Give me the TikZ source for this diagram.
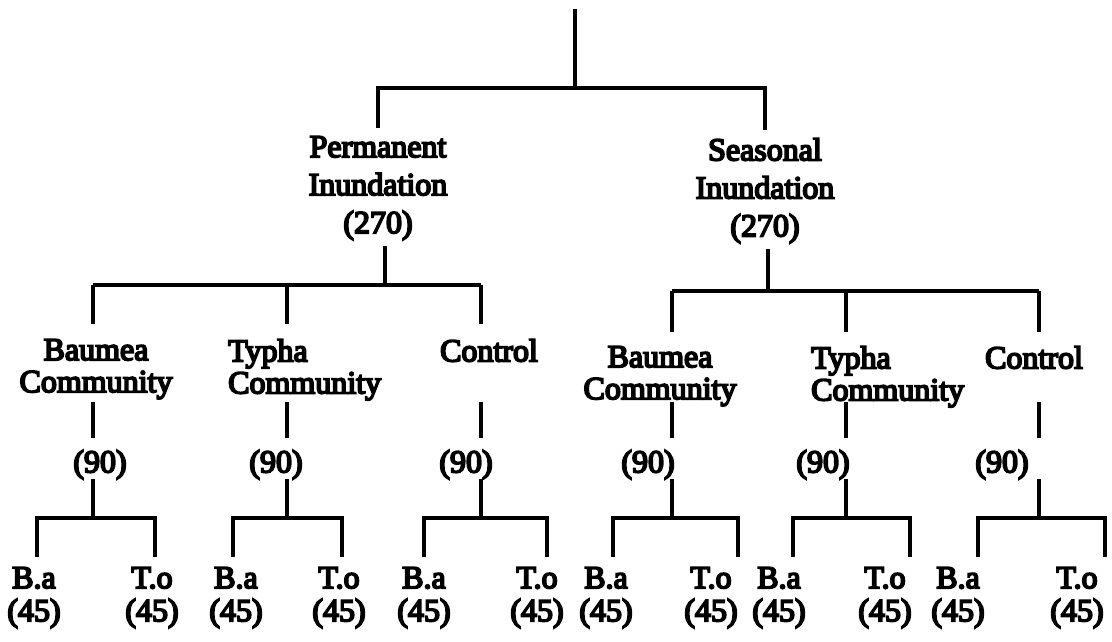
\documentclass[tikz,border=0pt]{standalone}
\usepackage{fontspec}
\setmainfont{Liberation Serif}
\usetikzlibrary{calc}

% heavier strokes, like the scanned print
\newcommand\inkon{\special{pdf:literal direct 2 Tr 1.8 w}}

\tikzset{
  branch/.style={line width=4.5pt},
  lab/.style={font=\fontsize{32}{32}\selectfont\inkon,inner sep=0pt,
    anchor=north,align=center},
  toplab/.style={lab,font=\fontsize{32}{38}\selectfont\inkon},
  leaf/.style={lab,font=\fontsize{32}{33}\selectfont\inkon}
}

\begin{document}
\begin{tikzpicture}[x=1pt,y=-1pt]
    \useasboundingbox (0,0) rectangle (1112,642);

    % inundation split
    \coordinate (top) at (575,9);
    \coordinate (j0) at (575,88);
    \node[toplab] (perm) at (378,136) {Permanent\\Inundation\\(270)};
    \node[toplab] (seas) at (765,138) {Seasonal\\Inundation\\(270)};
    \draw[branch] (top) -- (j0);
    \draw[branch,shorten <=8pt,shorten >=8pt] (perm.north) |- (j0) -| (seas.north);

    % communities
    \coordinate (jA) at (385,285);
    \coordinate (jB) at (768,291);
    \draw[branch,shorten <=6pt] (perm.south -| jA) -- (jA);
    \draw[branch,shorten <=6pt] (seas.south -| jB) -- (jB);

    \node[lab] (baumA) at (96,339) {Baumea\\Community};
    \node[lab,anchor=north west,align=left] (typhA) at (228,339) {Typha\\Community};
    \node[lab] (ctrlA) at (489,339) {Control};
    \node[lab] (baumB) at (660,346) {Baumea\\Community};
    \node[lab,anchor=north west,align=left] (typhB) at (811,346) {Typha\\Community};
    \node[lab] (ctrlB) at (1034,346) {Control};

    \foreach \c/\x/\y in {1/93/285,2/287/285,3/481/285,4/672/291,5/846/291,6/1039/291}
    \coordinate (h\c) at (\x,\y);
    \draw[branch] (h1) -- (h3);
    \draw[branch] (h4) -- (h6);
    \draw[branch,shorten >=15pt] (h1) -- (h1 |- baumA.north);
    \draw[branch,shorten >=15pt] (h2) -- (h2 |- typhA.north);
    \draw[branch,shorten >=15pt] (h3) -- (h3 |- ctrlA.north);
    \draw[branch,shorten >=14pt] (h4) -- (h4 |- baumB.north);
    \draw[branch,shorten >=14pt] (h5) -- (h5 |- typhB.north);
    \draw[branch,shorten >=14pt] (h6) -- (h6 |- ctrlB.north);

    % species
    \foreach \c/\nx/\lx/\rx/\bx/\tx in {1/100/37/155/34/152,2/276/233/342/236/339,
      3/466/424/547/424/537,4/648/613/738/606/711,5/823/793/910/779/885,
      6/1002/978/1105/958/1077}{
      \node[lab] (n\c) at (\nx,450) {(90)};
      \node[leaf] (ba\c) at (\bx,567) {B.a\\(45)};
      \node[leaf] (to\c) at (\tx,567) {T.o\\(45)};
      \coordinate (m\c) at (h\c |- 0,402);
      \coordinate (k\c) at (h\c |- 0,518);
      \coordinate (l\c) at (\lx,518);
      \coordinate (r\c) at (\rx,518);
      \draw[branch,shorten >=12pt] (m\c) -- (m\c |- n\c.north);
      \draw[branch] (k\c |- n\c.south) -- (k\c);
      \draw[branch,shorten <=10pt,shorten >=10pt] (ba\c.north -| l\c) |- (r\c) -- (to\c.north -| r\c);
    }

\end{tikzpicture}
\end{document}
